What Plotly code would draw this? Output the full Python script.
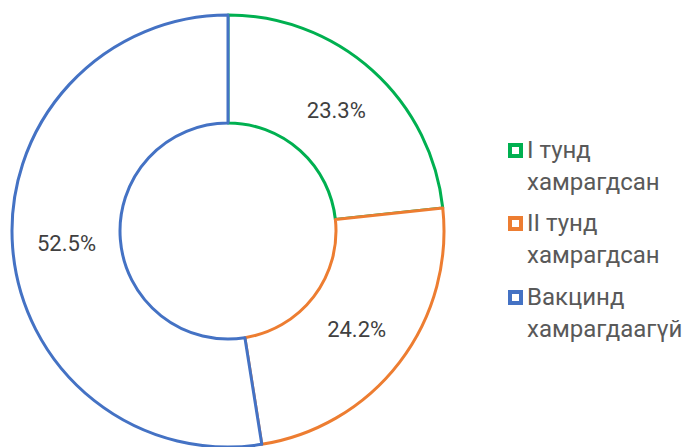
import plotly.graph_objects as go

labels = ["I тунд<br>хамрагдсан", "II тунд<br>хамрагдсан", "Вакцинд<br>хамрагдаагүй"]
values = [23.3, 24.2, 52.5]
colors = ["#00b050", "#ed7d31", "#4472c4"]

W, H = 686, 447

fig = go.Figure(go.Pie(
    labels=labels,
    values=values,
    hole=0.5,
    sort=False,
    direction="clockwise",
    rotation=0,
    texttemplate="%{value:.1f}%",
    textposition="inside",
    insidetextorientation="horizontal",
    textfont=dict(family="Roboto", size=22, color="#404040"),
    marker=dict(colors=["white"] * 3, line=dict(color=colors, width=3)),
    domain=dict(x=[12 / W, 444 / W], y=[0, 432 / H]),
    hoverinfo="skip",
    showlegend=False,
))

# manual legend (squares + wrapped labels)
item_top = [150, 223, 297]
line_gap = 32
for i, (lab, col) in enumerate(zip(labels, colors)):
    yc = item_top[i] + 0.5
    fig.add_shape(type="rect", xref="paper", yref="paper",
                  x0=510 / W, x1=521 / W, y0=1 - (yc + 5.5) / H, y1=1 - (yc - 5.5) / H,
                  line=dict(color=col, width=4), fillcolor="white")
    for j, part in enumerate(lab.split("<br>")):
        fig.add_annotation(x=525 / W, y=1 - (item_top[i] + j * line_gap) / H,
                           xref="paper", yref="paper", xanchor="left", yanchor="middle",
                           text=part, showarrow=False,
                           font=dict(family="Roboto", size=24, color="#595959"))

fig.update_layout(
    width=W, height=H,
    margin=dict(l=0, r=0, t=0, b=0),
    paper_bgcolor="white",
    font=dict(family="Roboto", color="#404040"),
    showlegend=False,
)

fig.write_html("out.html", config={"displayModeBar": False},
               post_script="document.body.style.margin='0';")
